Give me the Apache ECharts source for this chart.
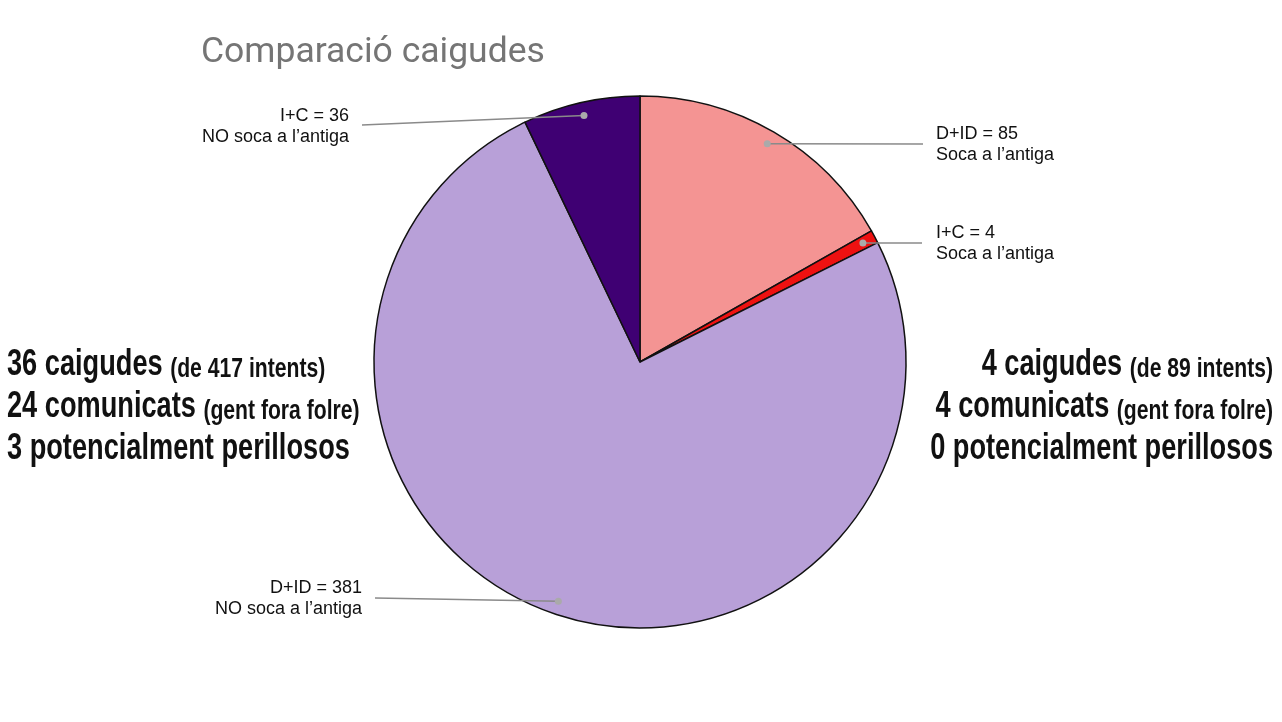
<!DOCTYPE html>
<html>
<head>
<meta charset="utf-8">
<script src="https://cdn.jsdelivr.net/npm/echarts@6/dist/echarts.min.js"></script>
<style>
  html, body { margin: 0; padding: 0; background: #fff; }
  #chart { width: 1282px; height: 722px; }
</style>
</head>
<body>
<div id="chart"></div>
<script>
// Dades
var categories = ['D+ID', 'I+C', 'D+ID', 'I+C'];
var values = [85, 4, 381, 36];
var notes = ['Soca a l’antiga', 'Soca a l’antiga', 'NO soca a l’antiga', 'NO soca a l’antiga'];

var leftBig = ['36 caigudes', '24 comunicats', '3 potencialment perillosos'];
var leftSmall = ['(de 417 intents)', '(gent fora folre)', ''];
var rightBig = ['4 caigudes', '4 comunicats', '0 potencialment perillosos'];
var rightSmall = ['(de 89 intents)', '(gent fora folre)', ''];

var colors = ['#f49493', '#ee1111', '#b8a0d8', '#3f0073'];

// posicio de les etiquetes (x, y, costat) i final de la linia
var labelSpots = [
  { x: 936, y: 145, align: 'left', end: [923, 144] },
  { x: 936, y: 244, align: 'left', end: [922, 243] },
  { x: 362, y: 599, align: 'right', end: [375, 598] },
  { x: 349, y: 127, align: 'right', end: [362, 125] }
];

var total = values.reduce(function (a, b) { return a + b; }, 0);
var dots = [];
var acc = 0;
for (var i = 0; i < values.length; i++) {
  dots.push([0.95, acc + values[i] / 2]);
  acc += values[i];
}

var pieData = [];
for (var j = 0; j < values.length; j++) {
  pieData.push({ name: categories[j], value: values[j], itemStyle: { color: colors[j] } });
}

var chart = echarts.init(document.getElementById('chart'));

// text gran dels costats (lletra estreta simulada amb scaleX)
function bigLines(big, small, x, align) {
  var out = [];
  var base = [362, 404, 446];
  for (var k = 0; k < big.length; k++) {
    var txt = small[k] ? '{b|' + big[k] + ' }{s|' + small[k] + '}' : '{b|' + big[k] + '}';
    out.push({
      type: 'text',
      x: x,
      y: base[k],
      scaleX: 0.755,
      style: {
        text: txt,
        align: align,
        verticalAlign: 'middle',
        fill: '#111',
        rich: {
          b: { fontFamily: 'Liberation Sans', fontWeight: 'bold', fontSize: 36, lineHeight: 42, verticalAlign: 'bottom', fill: '#111' },
          s: { fontFamily: 'Liberation Sans', fontWeight: 'bold', fontSize: 28, lineHeight: 37, verticalAlign: 'bottom', fill: '#111' }
        }
      }
    });
  }
  return out;
}

var option = {
  backgroundColor: '#fff',
  animation: false,
  title: {
    text: 'Comparació caigudes',
    left: 196,
    top: 30,
    textStyle: { fontFamily: 'Roboto', fontSize: 35.5, fontWeight: 'normal', color: '#757575' }
  },
  polar: { center: [640, 362], radius: 266 },
  angleAxis: { type: 'value', min: 0, max: total, startAngle: 90, clockwise: true, show: false },
  radiusAxis: { type: 'value', min: 0, max: 1, show: false },
  graphic: bigLines(leftBig, leftSmall, 7, 'left').concat(bigLines(rightBig, rightSmall, 1273, 'right')),
  series: [
    {
      type: 'pie',
      center: [640, 362],
      radius: 266,
      startAngle: 90,
      clockwise: true,
      silent: true,
      emphasis: { disabled: true },
      itemStyle: { borderColor: '#111', borderWidth: 1.5 },
      data: pieData,
      label: {
        show: true,
        position: 'outside',
        fontFamily: 'Liberation Sans',
        fontSize: 18,
        lineHeight: 21,
        color: '#111',
        formatter: function (p) {
          return p.name + ' = ' + p.value + '\n' + notes[p.dataIndex];
        }
      },
      labelLine: { show: false },
      labelLayout: function (p) {
        var s = labelSpots[p.dataIndex];
        return { x: s.x, y: s.y, align: s.align, verticalAlign: 'middle' };
      }
    },
    {
      type: 'custom',
      coordinateSystem: 'polar',
      silent: true,
      z: 5,
      data: dots,
      renderItem: function (params, api) {
        var pt = api.coord([api.value(0), api.value(1)]);
        var end = labelSpots[params.dataIndex].end;
        return {
          type: 'group',
          children: [
            { type: 'line', shape: { x1: pt[0], y1: pt[1], x2: end[0], y2: end[1] }, style: { stroke: '#8a8a8a', lineWidth: 1.5 } },
            { type: 'circle', shape: { cx: pt[0], cy: pt[1], r: 3.5 }, style: { fill: '#aaaaaa' } }
          ]
        };
      }
    }
  ]
};

chart.setOption(option);
</script>
</body>
</html>
